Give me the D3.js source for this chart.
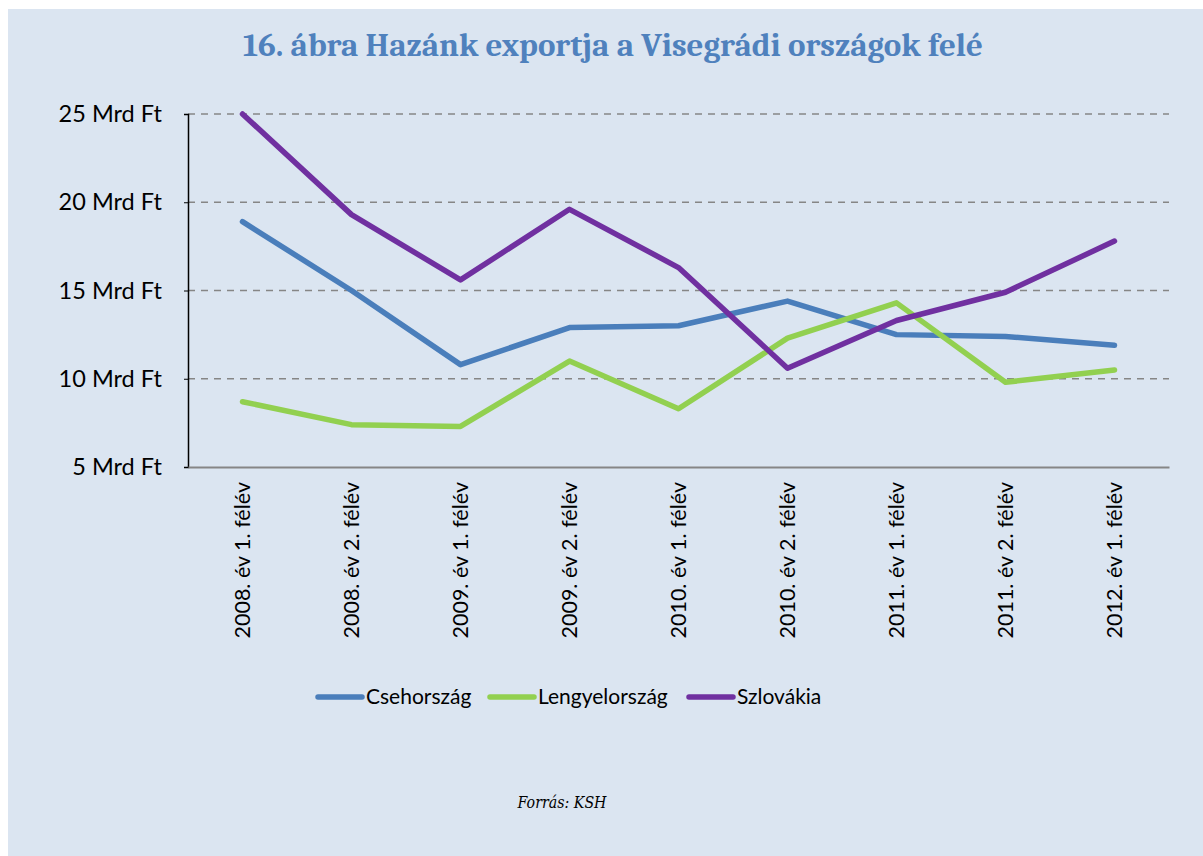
<!DOCTYPE html>
<html>
<head>
<meta charset="utf-8">
<script src="https://cdn.jsdelivr.net/npm/d3@7"></script>
<style>
  body { margin: 0; background: #fff; }
  text { font-family: Lato, "Open Sans", sans-serif; }
</style>
</head>
<body>
<div id="chart"></div>
<script>
(function() {
    var width = 1203,
        height = 856;

    // data
    var categories = ["2008. év 1. félév", "2008. év 2. félév", "2009. év 1. félév", "2009. év 2. félév",
        "2010. év 1. félév", "2010. év 2. félév", "2011. év 1. félév", "2011. év 2. félév", "2012. év 1. félév"]
    var seriesNames = ["Csehország", "Lengyelország", "Szlovákia"]
    var cseh = [18.9, 15.0, 10.8, 12.9, 13.0, 14.4, 12.5, 12.4, 11.9]
    var lengyel = [8.7, 7.4, 7.3, 11.0, 8.3, 12.3, 14.3, 9.8, 10.5]
    var szlovak = [25.0, 19.3, 15.6, 19.6, 16.3, 10.6, 13.3, 14.9, 17.8]
    var yTicks = [5, 10, 15, 20, 25]
    var colors = ["#4a7ebb", "#92d050", "#7030a0"]

    var series = [cseh, lengyel, szlovak]

    var svg = d3.select("#chart")
        .append("svg")
        .attr("width", width)
        .attr("height", height)

    svg.append("rect")
        .attr("x", 8).attr("y", 9)
        .attr("width", width - 8).attr("height", height - 9)
        .attr("fill", "#dbe5f1")

    svg.append("text")
        .attr("x", 613).attr("y", 56)
        .attr("text-anchor", "middle")
        .style("font-family", "Cambria, 'Liberation Serif', serif")
        .style("font-weight", "bold")
        .style("font-size", "32px")
        .attr("fill", "#4f81bd")
        .attr("textLength", 740)
        .attr("lengthAdjust", "spacingAndGlyphs")
        .text("16. ábra Hazánk exportja a Visegrádi országok felé")

    var left = 188, right = 1169, top = 114, bottom = 467

    var x = d3.scaleBand().domain(categories).range([left, right])
    var y = d3.scaleLinear().domain([5, 25]).range([bottom, top])

    // gridlines
    svg.append("g")
        .selectAll("line")
        .data(yTicks.filter(function(d) { return d > 5 }))
        .enter().append("line")
        .attr("x1", left).attr("x2", right)
        .attr("y1", function(d) { return y(d) })
        .attr("y2", function(d) { return y(d) })
        .attr("stroke", "#868686")
        .attr("stroke-width", 1.5)
        .attr("stroke-dasharray", "7,6")

    // y axis
    var yAxis = svg.append("g")
        .attr("transform", "translate(" + left + ",0)")
        .call(d3.axisLeft(y).tickValues(yTicks).tickSize(4).tickFormat(function(d) { return d + " Mrd Ft" }))
    yAxis.select(".domain").attr("stroke", "#000").attr("stroke-width", 1.5)
    yAxis.selectAll(".tick line").attr("stroke", "#000")
    yAxis.selectAll(".tick text")
        .attr("x", -26)
        .style("font-size", "23.5px")
        .attr("fill", "#000")

    // x axis
    var xAxis = svg.append("g")
        .attr("transform", "translate(0," + bottom + ")")
        .call(d3.axisBottom(x).tickSize(0))
    xAxis.select(".domain").attr("stroke", "#868686").attr("stroke-width", 2)
    xAxis.selectAll(".tick text")
        .attr("transform", "rotate(-90)")
        .attr("x", -15).attr("y", 0).attr("dy", "0.35em")
        .attr("text-anchor", "end")
        .style("font-size", "21.5px")
        .attr("fill", "#000")

    var line = d3.line()
        .x(function(d, i) { return x(categories[i]) + x.bandwidth() / 2 })
        .y(function(d) { return y(d) })

    svg.append("g")
        .selectAll("path")
        .data(series)
        .enter().append("path")
        .attr("d", line)
        .attr("fill", "none")
        .attr("stroke", function(d, i) { return colors[i] })
        .attr("stroke-width", 5.5)
        .attr("stroke-linejoin", "round")
        .attr("stroke-linecap", "round")

    // legend
    var legendX = [318, 490, 689]
    var legend = svg.append("g")
        .selectAll("g")
        .data(seriesNames)
        .enter().append("g")
        .attr("transform", function(d, i) { return "translate(" + legendX[i] + ",697)" })
    legend.append("line")
        .attr("x1", 0).attr("x2", 44)
        .attr("stroke", function(d, i) { return colors[i] })
        .attr("stroke-width", 5.5)
        .attr("stroke-linecap", "round")
    legend.append("text")
        .attr("x", 48).attr("dy", "0.35em")
        .style("font-size", "21px")
        .text(function(d) { return d })

    svg.append("text")
        .attr("x", 562).attr("y", 808)
        .attr("text-anchor", "middle")
        .style("font-family", "'DejaVu Serif', serif")
        .style("font-style", "italic")
        .style("font-size", "16px")
        .attr("textLength", 89)
        .attr("lengthAdjust", "spacingAndGlyphs")
        .text("Forrás: KSH")
})();
</script>
</body>
</html>
